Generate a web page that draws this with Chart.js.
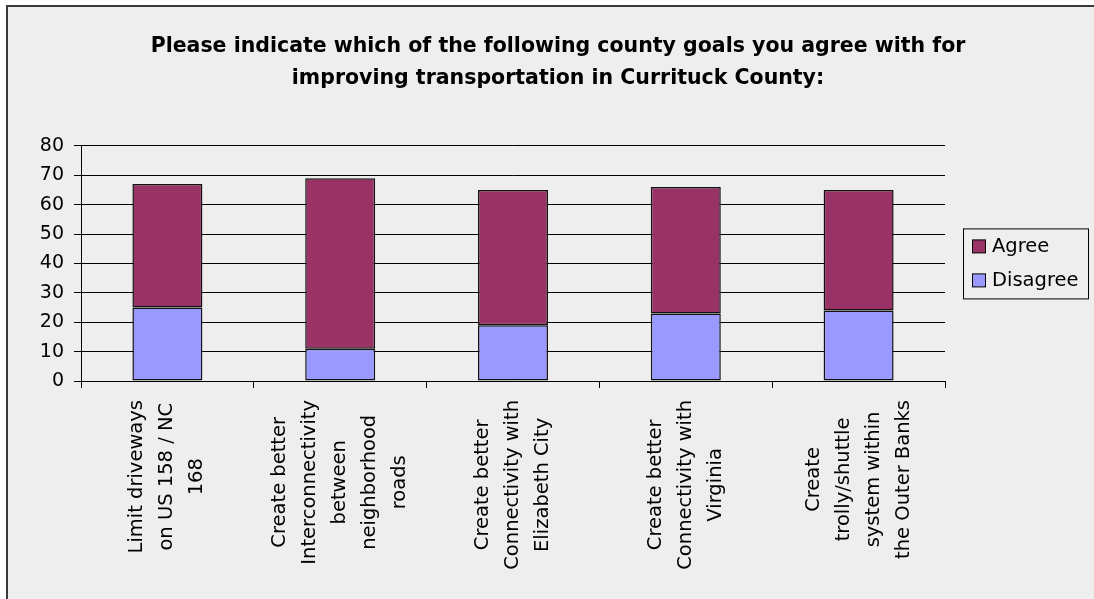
<!DOCTYPE html>
<html>
<head>
<meta charset="utf-8">
<script src="https://cdn.jsdelivr.net/npm/chart.js@4"></script>
<style>
  html, body { margin: 0; padding: 0; background: #fff; overflow: hidden; }
  #frame { position: absolute; left: 6px; top: 5px; width: 1200px; height: 700px;
           border-left: 2px solid #3a3a3a; border-top: 2px solid #3a3a3a; background: #eeeeee; }
  #myChart { position: absolute; left: 0; top: 0; }
</style>
</head>
<body>
<div id="frame"></div>
<canvas id="myChart" width="1094" height="599"></canvas>
<script>
const titleLines = [
  'Please indicate which of the following county goals you agree with for',
  'improving transportation in Currituck County:'
];
const categories = [
  ['Limit driveways', 'on US 158 / NC', '168'],
  ['Create better', 'Interconnectivity', 'between', 'neighborhood', 'roads'],
  ['Create better', 'Connectivity with', 'Elizabeth City'],
  ['Create better', 'Connectivity with', 'Virginia'],
  ['Create', 'trolly/shuttle', 'system within', 'the Outer Banks']
];
const disagree = [25, 11, 19, 23, 24];
const agree = [42, 58, 46, 43, 41];
const yMin = 0, yMax = 80, yStep = 10;

const FONT = "'DejaVu Sans', Verdana, sans-serif";

// x labels drawn rotated, lines centred on each other like the original
const xLabelPlugin = {
  id: 'xLabels',
  afterDraw(chart) {
    const ctx = chart.ctx;
    const xs = chart.scales.x;
    const top = chart.chartArea.bottom + 19;
    const lh = 30;
    ctx.save();
    ctx.font = '19.5px ' + FONT;
    ctx.fillStyle = '#000';
    ctx.textAlign = 'center';
    ctx.textBaseline = 'middle';
    categories.forEach((lines, i) => {
      const x = xs.getPixelForValue(i);
      let maxW = 0;
      lines.forEach(l => { maxW = Math.max(maxW, ctx.measureText(l).width); });
      const cy = top + maxW / 2;
      lines.forEach((l, j) => {
        const cx = x + (j - (lines.length - 1) / 2) * lh;
        ctx.save();
        ctx.translate(cx, cy);
        ctx.rotate(-Math.PI / 2);
        ctx.fillText(l, 0, 0);
        ctx.restore();
      });
    });
    ctx.restore();
  }
};

// boxed legend on the right, Agree listed first
const legendPlugin = {
  id: 'boxLegend',
  afterDraw(chart) {
    const ctx = chart.ctx;
    const area = chart.chartArea;
    const left = area.right + 18, w = 125, h = 70;
    const top = (area.top + area.bottom) / 2 - h / 2;
    ctx.save();
    ctx.strokeStyle = '#000';
    ctx.lineWidth = 1;
    ctx.strokeRect(left + 0.5, top + 0.5, w, h);
    ctx.font = '19.5px ' + FONT;
    ctx.textBaseline = 'middle';
    ctx.textAlign = 'left';
    const ds = chart.data.datasets.slice().reverse();
    ds.forEach((d, i) => {
      const cy = top + 19 + i * 34;
      ctx.fillStyle = d.backgroundColor;
      ctx.fillRect(left + 9.5, cy - 7.5, 13, 13);
      ctx.strokeRect(left + 9.5, cy - 7.5, 13, 13);
      ctx.fillStyle = '#000';
      ctx.fillText(d.label, left + 29, cy);
    });
    ctx.restore();
  }
};

new Chart(document.getElementById('myChart').getContext('2d'), {
  type: 'bar',
  data: {
    labels: categories.map(c => c.join(' ')),
    datasets: [{
      label: 'Disagree',
      data: disagree,
      backgroundColor: '#9999ff',
      borderColor: '#111',
      borderWidth: 1.5,
      borderSkipped: false
    }, {
      label: 'Agree',
      data: agree,
      backgroundColor: '#993366',
      borderColor: '#111',
      borderWidth: 1.5,
      borderSkipped: false
    }]
  },
  options: {
    responsive: false,
    animation: false,
    devicePixelRatio: 1,
    layout: { padding: { left: 22, right: 0, top: 0, bottom: 0 } },
    datasets: { bar: { categoryPercentage: 1, barPercentage: 0.405 } },
    plugins: {
      legend: { display: false },
      tooltip: { enabled: false },
      title: {
        display: true,
        text: titleLines,
        color: '#000',
        font: { family: FONT, size: 20.5, weight: 'bold', lineHeight: 1.52 },
        padding: { top: 31.5, bottom: 52 }
      }
    },
    scales: {
      x: {
        stacked: true,
        ticks: { display: false },
        grid: { drawOnChartArea: false, drawTicks: true, tickLength: 7, color: '#000', offset: true },
        border: { color: '#000', width: 1 },
        afterFit(s) { s.height = 218; }
      },
      y: {
        stacked: true,
        min: yMin,
        max: yMax,
        ticks: { stepSize: yStep, color: '#000', padding: 10, font: { family: FONT, size: 19 } },
        grid: { color: '#000', tickLength: 7 },
        border: { color: '#000', width: 1 },
        afterFit(s) { s.width = 59; }
      },
      y2: {
        position: 'right',
        ticks: { display: false },
        grid: { display: false },
        border: { display: false },
        afterFit(s) { s.width = 149; }
      }
    }
  },
  plugins: [xLabelPlugin, legendPlugin]
});
</script>
</body>
</html>
